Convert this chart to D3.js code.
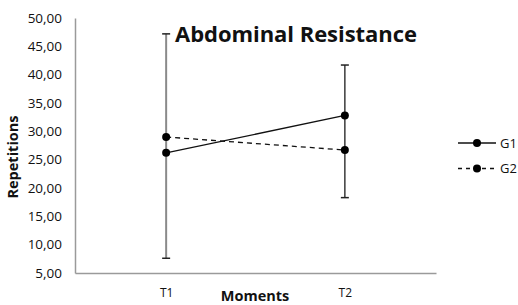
<!DOCTYPE html>
<meta charset="utf-8">
<style>
body { margin: 0; background: #fff; }
svg text { font-family: 'Open Sans', 'Liberation Sans', sans-serif; fill: #111; }
.tick text { font-size: 13.5px; }
.title { font-size: 22px; font-weight: bold; }
.axis-title { font-size: 14.5px; font-weight: bold; }
</style>
<svg id="svg" width="518" height="305"></svg>
<script src="https://cdn.jsdelivr.net/npm/d3@7"></script>
<script>

// data
let moments = ['T1', 'T2'];
let g1 = [26.2, 32.8];
let g2 = [29.0, 26.7];
let errLow = [7.6, 18.3];
let errHigh = [47.2, 41.7];
let yTicks = [5, 10, 15, 20, 25, 30, 35, 40, 45, 50];

function translate(x, y) {
    return 'translate(' + x + ',' + y + ')';
}

let svg = d3.select('#svg');
let margin = {left: 75, top: 18, right: 82, bottom: 32};
let width = 518 - margin.left - margin.right,
    height = 305 - margin.top - margin.bottom;

let g = svg.append('g').attr('transform', translate(margin.left, margin.top));

let x = d3.scalePoint().domain(moments).range([0, width]).padding(0.51);
let y = d3.scaleLinear().domain([5, 50]).range([height, 0]);

let fmt = d => d3.format('.2f')(d).replace('.', ',');

// y axis
let yAxis = g.append('g').call(d3.axisLeft(y).tickValues(yTicks).tickFormat(fmt).tickSize(0).tickPadding(13));
yAxis.select('.domain').attr('stroke', '#9a9a9a').attr('stroke-width', 1.5);

// x axis
let xAxis = g.append('g').attr('transform', translate(0, height))
    .call(d3.axisBottom(x).tickSize(0).tickPadding(15));
xAxis.select('.domain').attr('stroke', '#9a9a9a').attr('stroke-width', 1.5);
xAxis.selectAll('.tick text').style('font-size', '12px');

// error bars
let errColors = ['#8a8a8a', '#3a3a3a'];
moments.forEach((m, i) => {
    g.append('line')
        .attr('x1', x(m)).attr('x2', x(m))
        .attr('y1', y(errLow[i])).attr('y2', y(errHigh[i]))
        .attr('stroke', errColors[i]).attr('stroke-width', i === 0 ? 2 : 1.5);
    [errLow[i], errHigh[i]].forEach(v => {
        g.append('line')
            .attr('x1', x(m) - 4).attr('x2', x(m) + 4)
            .attr('y1', y(v)).attr('y2', y(v))
            .attr('stroke', '#222').attr('stroke-width', 1.5);
    });
});

let series = [
    {name: 'G1', values: g1, dash: null},
    {name: 'G2', values: g2, dash: '5 4'}
];

let line = d3.line()
    .x((d, i) => x(moments[i]))
    .y(d => y(d));

series.forEach(s => {
    g.append('path')
        .attr('d', line(s.values))
        .attr('fill', 'none')
        .attr('stroke', '#111')
        .attr('stroke-width', 1.3)
        .attr('stroke-dasharray', s.dash);
    g.selectAll(null)
        .data(s.values)
        .enter().append('circle')
        .attr('cx', (d, i) => x(moments[i]))
        .attr('cy', d => y(d))
        .attr('r', 4)
        .attr('fill', '#000');
});

// title
svg.append('text')
    .attr('class', 'title')
    .attr('x', 175).attr('y', 42)
    .attr('textLength', 242)
    .text('Abdominal Resistance');

// axis titles
svg.append('text')
    .attr('class', 'axis-title')
    .attr('text-anchor', 'middle')
    .attr('x', 255).attr('y', 301)
    .text('Moments');

svg.append('text')
    .attr('class', 'axis-title')
    .attr('text-anchor', 'middle')
    .attr('transform', translate(18, 157) + ' rotate(-90)')
    .text('Repetitions');

// legend
let legend = svg.append('g').attr('transform', translate(458, 143));
series.forEach((s, i) => {
    let lg = legend.append('g').attr('transform', translate(0, i * 25.5));
    lg.append('line')
        .attr('x1', 0).attr('x2', 38)
        .attr('stroke', '#111').attr('stroke-width', 1.3)
        .attr('stroke-dasharray', s.dash ? '4 4' : null);
    lg.append('circle').attr('cx', 19).attr('r', 4).attr('fill', '#000');
    lg.append('text')
        .attr('x', 42).attr('dy', '0.35em')
        .style('font-size', '13px')
        .text(s.name);
});

</script>
